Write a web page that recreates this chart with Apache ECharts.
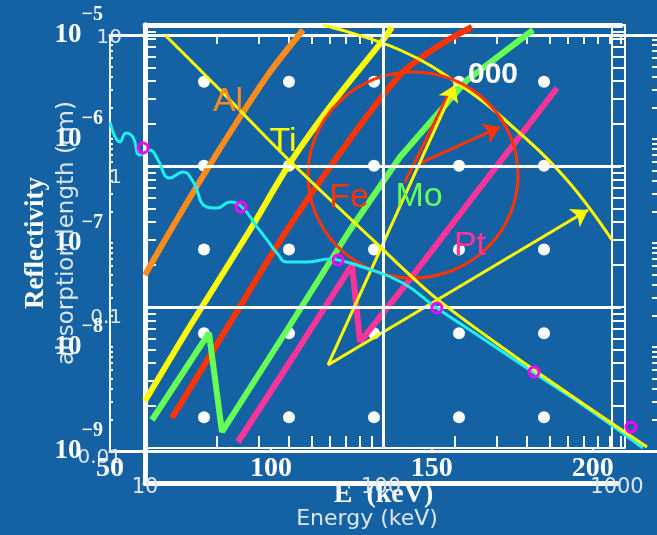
<!DOCTYPE html>
<html><head><meta charset="utf-8">
<script src="https://cdn.jsdelivr.net/npm/echarts@6/dist/echarts.min.js"></script>
<style>html,body{margin:0;padding:0;background:#1461a3;}#c{width:657px;height:535px;}</style>
</head><body><div id="c"></div>
<script>
// ---------------- data ----------------
// tick / label arrays
const energyLabelValues = [10, 100, 1000];
const energyTickValues = [10,20,30,40,50,60,70,80,90,100,200,300,400,500,600,700,800,900,1000];
const absLabelValues = [0.01, 0.1, 1, 10];
const absTickValues = [0.01,0.02,0.03,0.04,0.05,0.06,0.07,0.08,0.09,0.1,0.2,0.3,0.4,0.5,0.6,0.7,0.8,0.9,1,2,3,4,5,6,7,8,9,10];
const reflLabelValues = [1e-9, 1e-8, 1e-7, 1e-6, 1e-5];
const reflExpLabels = ['−9', '−8', '−7', '−6', '−5'];
const reflTickValues = [1e-9,2e-9,3e-9,4e-9,5e-9,6e-9,7e-9,8e-9,9e-9,1e-8,2e-8,3e-8,4e-8,5e-8,6e-8,7e-8,8e-8,9e-8,1e-7,2e-7,3e-7,4e-7,5e-7,6e-7,7e-7,8e-7,9e-7,1e-6,2e-6,3e-6,4e-6,5e-6,6e-6,7e-6,8e-6,9e-6,1e-5];
const eLinearLabels = [50, 100, 150, 200];

// absorption-length style curves (energy keV, length)
const alE = [10, 12.13, 17.02, 25.07, 33.50, 46.12];
const alL = [0.1687, 0.2986, 0.7826, 2.226, 4.642, 9.216];
const tiE = [10, 15.46, 27.62, 40.67, 62.85, 100, 109.1];
const tiL = [0.02154, 0.07331, 0.3517, 1.050, 2.938, 7.828, 9.68];
const feE = [12.98, 22.75, 39.51, 65.96, 117.9, 173.6, 236.5];
const feL = [0.01632, 0.0770, 0.3517, 1.236, 4.420, 7.215, 9.68];
const moE = [10.70, 18.57, 21.06, 39.51, 72.66, 117.9, 225.4, 426.9];
const moL = [0.0158, 0.0654, 0.01299, 0.06869, 0.3517, 1.158, 4.072, 9.216];
const ptE = [24.59, 42.69, 74.08, 80.08, 126.2, 238.8, 538.4];
const ptL = [0.01103, 0.04642, 0.1986, 0.05646, 0.1480, 0.6026, 3.574];
const arcE = [55.97, 117.9, 216.8, 351.7, 593.1, 916.6];
const arcL = [10, 6.648, 3.633, 1.890, 0.7958, 0.2986];
const ringE = [133.7];
const ringL = [0.8635];
const yArrowFrom = [58.74, 0.03879];
const yArrowTo1 = [200.7, 3.753];
const yArrowTo2 = [726.6, 0.4875];
const rArrowFrom = [143.0, 1.050];
const rArrowTo = [310.0, 1.890];
const rLineFrom = [123.7, 0.7699];
const rLineTo = [187.6, 3.187];

// reflectivity curve (E keV, reflectivity)
const cyanE = [50.0, 53.1, 55.0, 57.1, 59.3, 62.4, 64.6, 68.6, 72.7, 75.5, 80.1, 83.3, 87.3, 91.0, 95.7, 98.8, 101.9, 105.0, 111.2, 118.4, 120.9, 128.6, 141.0, 151.6, 166.5, 181.4, 199.2, 215.6];
const cyanR = [1.456e-6, 9.36e-7, 1.143e-6, 1.045e-6, 7.02e-7, 7.83e-7, 6.56e-7, 4.22e-7, 4.82e-7, 4.04e-7, 2.22e-7, 2.17e-7, 2.48e-7, 2.22e-7, 1.43e-7, 1.07e-7, 8.02e-8, 6.57e-8, 6.57e-8, 7.02e-8, 6.87e-8, 5.88e-8, 4.12e-8, 2.37e-8, 1.17e-8, 5.75e-9, 2.48e-9, 1.07e-9];
const markE = [60.3, 90.7, 120.9, 151.6, 181.8, 211.9];
const markR = [8.19e-7, 2.22e-7, 6.87e-8, 2.37e-8, 5.75e-9, 1.70e-9];
const diagE = [67.1, 83.3, 105.9, 131.7, 151.6, 181.4, 216.9];
const diagR = [1e-5, 3.16e-6, 6.14e-7, 1.07e-7, 2.90e-8, 6.14e-9, 1.09e-9];

// background dot lattice
const dotCols = [1, 2, 3, 4, 5];
const dotRows = [1, 2, 3, 4, 5];

// ---------------- build ----------------
const zip = (a, b) => a.map((v, i) => [v, b[i]]);
const dots = [];
dotCols.forEach(c => dotRows.forEach(r => dots.push([c, r])));

const W = '#ffffff';
const SANS = '"DejaVu Sans", sans-serif';
const SERIF = '"Liberation Serif", "Times New Roman", serif';
const LIGHT = '#dde6ef';

const chart = echarts.init(document.getElementById('c'), null, {renderer: 'canvas'});

const option = {
  backgroundColor: '#1461a3',
  animation: false,
  grid: [
    {left: 145, top: 25, width: 476, height: 423, containLabel: false, outerBoundsMode: 'none'}, // 0 main
    {left: 145, top: 25, width: 472, height: 458, containLabel: false, outerBoundsMode: 'none'}, // 1 energy / abs length
    {left: 110, top: 35, width: 547, height: 416, containLabel: false, outerBoundsMode: 'none'}, // 2 reflectivity
    {left: 119, top: -2, width: 510, height: 503, containLabel: false, outerBoundsMode: 'none'}  // 3 dots
  ],
  xAxis: [
    { // 0 main bottom
      gridIndex: 0, type: 'log', logBase: 10, min: 10, max: 1000,
      axisLine: {show: true, lineStyle: {color: W, width: 2}},
      axisTick: {show: true, inside: true, length: 12, lineStyle: {color: W, width: 2}, customValues: energyTickValues},
      axisLabel: {show: false}, splitLine: {show: false}
    },
    { // 1 main top ticks (hanging from the thin line)
      gridIndex: 0, type: 'log', logBase: 10, min: 10, max: 1000, position: 'top', offset: -9,
      axisLine: {show: false},
      axisTick: {show: true, inside: true, length: 10, lineStyle: {color: W, width: 2}, customValues: energyTickValues},
      axisLabel: {show: false}, splitLine: {show: false}
    },
    { // 2 main thick top frame
      gridIndex: 0, type: 'log', logBase: 10, min: 10, max: 1000, position: 'top',
      axisLine: {show: true, lineStyle: {color: W, width: 5}},
      axisTick: {show: false}, axisLabel: {show: false}, splitLine: {show: false}
    },
    { // 3 energy log axis (sans)
      gridIndex: 1, type: 'log', logBase: 10, min: 10, max: 1000,
      axisLine: {show: true, lineStyle: {color: W, width: 5}},
      axisTick: {show: false},
      axisLabel: {show: true, customValues: energyLabelValues, margin: -6, color: LIGHT, fontFamily: SANS, fontSize: 21, formatter: v => String(v)},
      splitLine: {show: false},
      name: 'Energy (keV)', nameLocation: 'middle', nameGap: 25, nameMoveOverlap: false,
      nameTextStyle: {color: LIGHT, fontFamily: SANS, fontSize: 22, padding: [0, 28, 0, 0]}
    },
    { // 4 reflectivity E axis (serif)
      gridIndex: 2, type: 'value', min: 50, max: 220,
      axisLine: {show: true, lineStyle: {color: W, width: 3}},
      axisTick: {show: true, inside: true, length: 4, lineStyle: {color: W, width: 2}, customValues: eLinearLabels},
      axisLabel: {show: true, customValues: eLinearLabels, margin: 4, color: W, fontFamily: SERIF, fontWeight: 'bold', fontSize: 28, formatter: v => String(v)},
      splitLine: {show: false},
      name: 'E  (keV)', nameLocation: 'middle', nameGap: 30, nameMoveOverlap: false,
      nameTextStyle: {color: W, fontFamily: SERIF, fontWeight: 'bold', fontSize: 28}
    },
    { // 5 reflectivity top frame
      gridIndex: 2, type: 'value', min: 50, max: 220, position: 'top',
      axisLine: {show: true, lineStyle: {color: W, width: 3}},
      axisTick: {show: false}, axisLabel: {show: false}, splitLine: {show: false}
    },
    { // 6 dots
      gridIndex: 3, type: 'value', min: 0, max: 6, show: false
    }
  ],
  yAxis: [
    { // 0 main left
      gridIndex: 0, type: 'log', logBase: 10, min: 0.01, max: 10,
      axisLine: {show: true, lineStyle: {color: W, width: 5}},
      axisTick: {show: true, inside: true, length: 11, lineStyle: {color: W, width: 2}, customValues: absTickValues},
      axisLabel: {show: false}, splitLine: {show: false}
    },
    { // 1 main right ladder (ticks)
      gridIndex: 0, type: 'log', logBase: 10, min: 0.01, max: 10, position: 'right', offset: -9,
      axisLine: {show: true, lineStyle: {color: W, width: 2}},
      axisTick: {show: true, inside: false, length: 13, lineStyle: {color: W, width: 2}, customValues: absTickValues},
      axisLabel: {show: false}, splitLine: {show: false}
    },
    { // 2 main right ladder outer line
      gridIndex: 0, type: 'log', logBase: 10, min: 0.01, max: 10, position: 'right', offset: 4,
      axisLine: {show: true, lineStyle: {color: W, width: 2}},
      axisTick: {show: false}, axisLabel: {show: false}, splitLine: {show: false}
    },
    { // 3 absorption length axis (sans)
      gridIndex: 1, type: 'log', logBase: 10, min: 0.00663, max: 12.38,
      axisLine: {show: true, lineStyle: {color: W, width: 5}},
      axisTick: {show: false},
      axisLabel: {show: true, customValues: absLabelValues, margin: 23, color: LIGHT, fontFamily: SANS, fontSize: 20, formatter: v => String(v)},
      splitLine: {show: false},
      name: 'absorption length (cm)', nameLocation: 'middle', nameGap: 66, nameMoveOverlap: false,
      nameTextStyle: {color: LIGHT, fontFamily: SANS, fontSize: 23, padding: [0, 0, 0, 42]}
    },
    { // 4 reflectivity left (serif)
      gridIndex: 2, type: 'log', logBase: 10, min: 1e-9, max: 1e-5,
      axisLine: {show: true, lineStyle: {color: W, width: 2}},
      axisTick: {show: true, inside: true, length: 3, lineStyle: {color: W, width: 2}, customValues: reflTickValues},
      axisLabel: {
        show: true, customValues: reflLabelValues, margin: 7,
        formatter: v => '{b|10}{s|' + reflExpLabels[reflLabelValues.findIndex(t => Math.abs(Math.log10(t) - Math.log10(v)) < 0.01)] + '}',
        rich: {
          b: {color: W, fontFamily: SERIF, fontWeight: 'bold', fontSize: 27},
          s: {color: W, fontFamily: SERIF, fontWeight: 'bold', fontSize: 20, padding: [0, 0, 40, 0]}
        }
      },
      splitLine: {show: false},
      name: 'Reflectivity', nameLocation: 'middle', nameGap: 60, nameMoveOverlap: false,
      nameTextStyle: {color: W, fontFamily: SERIF, fontWeight: 'bold', fontSize: 27}
    },
    { // 5 reflectivity right ticks
      gridIndex: 2, type: 'log', logBase: 10, min: 1e-9, max: 1e-5, position: 'right',
      axisLine: {show: false},
      axisTick: {show: true, inside: true, length: 5, lineStyle: {color: W, width: 2}, customValues: reflTickValues},
      axisLabel: {show: false}, splitLine: {show: false}
    },
    { // 6 dots
      gridIndex: 3, type: 'value', min: 0, max: 6, inverse: true, show: false
    }
  ],
  series: [
    {type: 'scatter', xAxisIndex: 6, yAxisIndex: 6, data: dots, symbol: 'circle', symbolSize: 12,
     itemStyle: {color: W, opacity: 1}, silent: true, z: 1},
    {type: 'line', xAxisIndex: 0, yAxisIndex: 0, data: [], silent: true, z: 1,
     markLine: {silent: true, symbol: ['none', 'none'], label: {show: false},
       lineStyle: {color: W, width: 3, type: 'solid', opacity: 1},
       data: [{xAxis: 100}, {yAxis: 0.1}, {yAxis: 1}]}},
    {name: 'Al', type: 'line', xAxisIndex: 0, yAxisIndex: 0, data: zip(alE, alL), smooth: 0.3, showSymbol: false,
     lineStyle: {color: '#ff8c1a', width: 6}, z: 3},
    {name: 'Ti', type: 'line', xAxisIndex: 0, yAxisIndex: 0, data: zip(tiE, tiL), smooth: 0.3, showSymbol: false,
     lineStyle: {color: '#ffff00', width: 6}, z: 3},
    {name: 'Fe', type: 'line', xAxisIndex: 0, yAxisIndex: 0, data: zip(feE, feL), smooth: 0.3, showSymbol: false,
     lineStyle: {color: '#ff3300', width: 6}, z: 3},
    {name: 'Mo', type: 'line', xAxisIndex: 0, yAxisIndex: 0, data: zip(moE, moL), smooth: false, showSymbol: false,
     lineStyle: {color: '#66ff55', width: 6}, z: 3},
    {name: 'Pt', type: 'line', xAxisIndex: 0, yAxisIndex: 0, data: zip(ptE, ptL), smooth: false, showSymbol: false,
     lineStyle: {color: '#ff3399', width: 6}, z: 3},
    {type: 'line', xAxisIndex: 0, yAxisIndex: 0, data: zip(arcE, arcL), smooth: 0.4, showSymbol: false,
     lineStyle: {color: '#ffff00', width: 3}, z: 3},
    {type: 'scatter', xAxisIndex: 0, yAxisIndex: 0, data: zip(ringE, ringL), symbol: 'circle', symbolSize: [210, 206],
     itemStyle: {color: 'rgba(0,0,0,0)', borderColor: '#ff3300', borderWidth: 3, opacity: 1}, silent: true, z: 3},
    {type: 'lines', coordinateSystem: 'cartesian2d', xAxisIndex: 0, yAxisIndex: 0, silent: true, z: 4,
     symbol: ['none', 'none'], lineStyle: {color: '#ff3300', width: 3, curveness: 0, opacity: 1},
     data: [{coords: [rLineFrom, rLineTo]}]},
    {type: 'lines', coordinateSystem: 'cartesian2d', xAxisIndex: 0, yAxisIndex: 0, silent: true, z: 4,
     symbol: ['none', 'arrow'], symbolSize: 16, lineStyle: {color: '#ff3300', width: 3, curveness: 0, opacity: 1},
     data: [{coords: [rArrowFrom, rArrowTo]}]},
    {type: 'lines', coordinateSystem: 'cartesian2d', xAxisIndex: 0, yAxisIndex: 0, silent: true, z: 4,
     symbol: ['none', 'arrow'], symbolSize: 16, lineStyle: {color: '#ffff00', width: 3, curveness: 0, opacity: 1},
     data: [{coords: [yArrowFrom, yArrowTo1]}, {coords: [yArrowFrom, yArrowTo2]}]},
    {name: 'reflectivity', type: 'line', xAxisIndex: 4, yAxisIndex: 4, data: zip(cyanE, cyanR), smooth: 0.5, showSymbol: false,
     lineStyle: {color: '#1ef0f0', width: 3}, z: 5},
    {type: 'line', xAxisIndex: 4, yAxisIndex: 4, data: zip(diagE, diagR), smooth: 0.3, showSymbol: false,
     lineStyle: {color: '#ffff00', width: 3}, z: 5},
    {type: 'scatter', xAxisIndex: 4, yAxisIndex: 4, data: zip(markE, markR), symbol: 'circle', symbolSize: 10,
     itemStyle: {color: 'rgba(0,0,0,0)', borderColor: '#ff00ff', borderWidth: 3, opacity: 1}, z: 6}
  ],
  graphic: [
    {type: 'text', x: 228, y: 102, z: 50, style: {text: 'Al', fill: '#ff8c1a', font: '34px "Liberation Sans", sans-serif', align: 'center', verticalAlign: 'middle'}},
    {type: 'text', x: 283, y: 142, z: 50, style: {text: 'Ti', fill: '#ffff00', font: '34px "Liberation Sans", sans-serif', align: 'center', verticalAlign: 'middle'}},
    {type: 'text', x: 349, y: 198, z: 50, style: {text: 'Fe', fill: '#ff3300', font: '34px "Liberation Sans", sans-serif', align: 'center', verticalAlign: 'middle'}},
    {type: 'text', x: 419, y: 197, z: 50, style: {text: 'Mo', fill: '#66ff55', font: '34px "Liberation Sans", sans-serif', align: 'center', verticalAlign: 'middle'}},
    {type: 'text', x: 470, y: 246, z: 50, style: {text: 'Pt', fill: '#ff3399', font: '34px "Liberation Sans", sans-serif', align: 'center', verticalAlign: 'middle'}},
    {type: 'text', x: 493, y: 75, z: 50, style: {text: '000', fill: '#ffffff', font: 'bold 30px "Liberation Sans", sans-serif', align: 'center', verticalAlign: 'middle'}}
  ]
};
chart.setOption(option);
</script>
</body></html>
